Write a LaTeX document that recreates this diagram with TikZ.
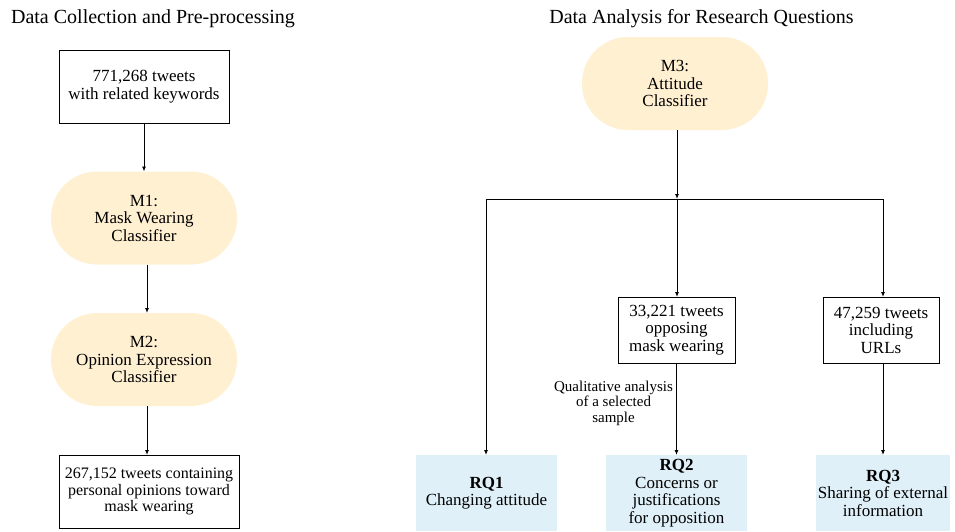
\documentclass[tikz,border=0pt]{standalone}
\usepackage{fontspec}
\setmainfont{Liberation Serif}
\usetikzlibrary{arrows.meta,calc}
\definecolor{pill}{RGB}{255,240,210}
\definecolor{rqblue}{RGB}{224,240,248}
\begin{document}
\begin{tikzpicture}[x=1pt,y=-1pt,
  every node/.style={inner sep=0pt, outer sep=0pt},
  txt/.style={font=\fontsize{17}{17.5}\selectfont, align=center},
  databox/.style={txt, draw, line width=0.9pt, rectangle},
  pillbox/.style={txt, fill=pill, rounded corners=46pt, minimum width=186pt, minimum height=93pt},
  rqbox/.style={txt, fill=rqblue, minimum height=76pt},
  ttl/.style={font=\fontsize{20}{22}\selectfont, anchor=base},
  arr/.style={line width=0.9pt, -{Latex[length=5pt,width=4pt]}},
  ln/.style={line width=0.9pt}]
\useasboundingbox (0,0) rectangle (955,531);

% titles
\node[ttl] (t1) at (153,23) {Data Collection and Pre-processing};
\node[ttl] (t2) at (701.5,23) {Data Analysis for Research Questions};

% left column
\coordinate (a147) at (147,0);
\node[databox, minimum width=170pt, minimum height=73pt] (b1) at (144,86.5) {771,268 tweets\\with related keywords};
\node[pillbox] (m1) at (144,218) {M1:\\Mask Wearing\\Classifier};
\node[pillbox] (m2) at (144,359.5) {M2:\\Opinion Expression\\Classifier};
\node[databox, font=\fontsize{16}{16.7}\selectfont, minimum width=180pt, minimum height=73pt] (b4) at (149,491.5) {267,152 tweets containing\\personal opinions toward\\mask wearing};

\draw[arr] (b1.south) -- (m1.north);
\draw[arr] (m1.south -| a147) -- (m2.north -| a147);
\draw[arr] (m2.south -| a147) -- (b4.north -| a147);

% right part
\node[pillbox] (m3) at (675,83.5) {M3:\\Attitude\\Classifier};
\coordinate (j) at (677,199);
\coordinate (jl) at (486,199);
\coordinate (jr) at (883,199);
\node[databox, minimum width=117pt, minimum height=66pt] (b2) at (676.5,330) {33,221 tweets\\opposing\\mask wearing};
\node[databox, minimum width=116pt, minimum height=66pt] (b3) at (881,330) {47,259 tweets\\including\\URLs};
\node[rqbox, minimum width=141pt] (rq1) at (486.5,493) {\textbf{RQ1}\\Changing attitude};
\node[rqbox, minimum width=141pt] (rq2) at (676.5,493) {\textbf{RQ2}\\Concerns or\\justifications\\for opposition};
\node[rqbox, minimum width=134pt] (rq3) at (883,493) {\textbf{RQ3}\\Sharing of external\\information};
\node[font=\fontsize{15}{15.5}\selectfont, align=center] (lab) at (613.5,403) {Qualitative analysis\\of a selected\\sample};

\draw[arr] (m3.south -| j) -- (j);
\draw[ln] (jl) -- (jr);
\draw[arr] (j) -- (b2.north -| j);
\draw[arr] (jr) -- (b3.north -| jr);
\draw[arr] (jl) -- (rq1.north -| jl);
\draw[arr] (b2.south -| rq2) -- (rq2.north);
\draw[arr] (b3.south -| rq3) -- (rq3.north);
\end{tikzpicture}
\end{document}
